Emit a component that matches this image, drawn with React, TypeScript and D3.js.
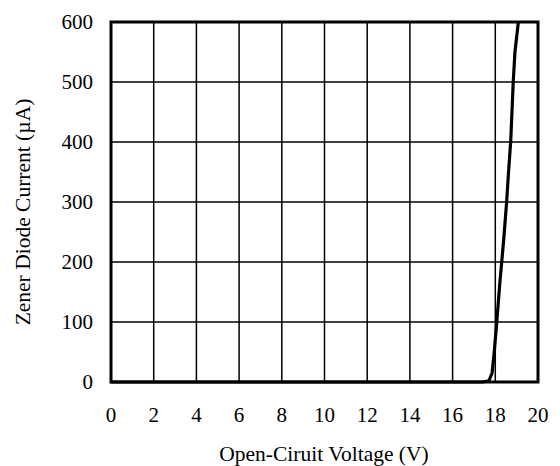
import React from "react";
import * as d3 from "d3";

const voltage = [0, 17.4, 17.7, 17.85, 17.95, 18.07, 18.2, 18.3, 18.4, 18.53, 18.62, 18.72, 18.84, 18.92, 19.08];
const current = [0, 0, 2, 15, 50, 100, 160, 200, 240, 300, 350, 400, 500, 550, 600];
const xTicks = [0, 2, 4, 6, 8, 10, 12, 14, 16, 18, 20];
const yTicks = [0, 100, 200, 300, 400, 500, 600];

const W = 560, H = 466;
const L = 111, R = 538, T = 22, B = 382;

export default function App() {
  const x = d3.scaleLinear().domain([0, 20]).range([L, R]);
  const y = d3.scaleLinear().domain([0, 600]).range([B, T]);
  const pts: [number, number][] = voltage.map((v, i) => [v, current[i]]);
  const line = d3.line<[number, number]>().x(d => x(d[0])).y(d => y(d[1]));
  const font = "'Liberation Serif', 'Times New Roman', serif";
  return (
    <svg width={W} height={H} style={{ position: "absolute", left: 0, top: 0, background: "#fff" }}>
      <rect x={0} y={0} width={W} height={H} fill="#fff" />
      {xTicks.map(t => (
        <line key={"gx" + t} x1={x(t)} x2={x(t)} y1={T} y2={B} stroke="#000" strokeWidth={1.5} />
      ))}
      {yTicks.map(t => (
        <line key={"gy" + t} x1={L} x2={R} y1={y(t)} y2={y(t)} stroke="#000" strokeWidth={1.5} />
      ))}
      <rect x={L} y={T} width={R - L} height={B - T} fill="none" stroke="#000" strokeWidth={3} />
      <path d={line(pts) || ""} fill="none" stroke="#000" strokeWidth={3.2} strokeLinejoin="round" />
      {xTicks.map(t => (
        <text key={"tx" + t} x={x(t)} y={421.5} textAnchor="middle" fontFamily={font} fontSize={21} fill="#000">{t}</text>
      ))}
      {yTicks.map(t => (
        <text key={"ty" + t} x={93} y={y(t) + 7} textAnchor="end" fontFamily={font} fontSize={21} fill="#000">{t}</text>
      ))}
      <text x={324} y={461} textAnchor="middle" fontFamily={font} fontSize={21.5} fill="#000">Open-Ciruit Voltage (V)</text>
      <text transform={`translate(30, 212) rotate(-90)`} textAnchor="middle" fontFamily={font} fontSize={21.5} fill="#000">Zener Diode Current (µA)</text>
    </svg>
  );
}
